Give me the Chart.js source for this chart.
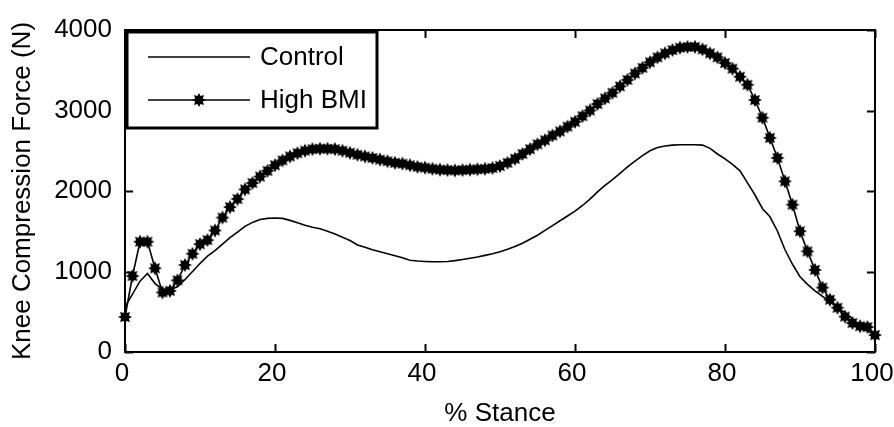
<!DOCTYPE html>
<html>
<head>
<meta charset="utf-8">
<script src="https://cdn.jsdelivr.net/npm/chart.js@4.4.1/dist/chart.umd.min.js"></script>
<style>
  html, body { margin: 0; padding: 0; background: #ffffff; }
  #wrap { width: 894px; height: 427px; position: relative; }
</style>
</head>
<body>
<div id="wrap"><canvas id="c" width="894" height="427"></canvas></div>
<script>
// ---- data ----
const stance = [0,1,2,3,4,5,6,7,8,9,10,11,12,13,14,15,16,17,18,19,20,21,22,23,24,25,26,27,28,29,30,31,32,33,34,35,36,37,38,39,40,41,42,43,44,45,46,47,48,49,50,51,52,53,54,55,56,57,58,59,60,61,62,63,64,65,66,67,68,69,70,71,72,73,74,75,76,77,78,79,80,81,82,83,84,85,86,87,88,89,90,91,92,93,94,95,96,97,98,99,100];

const controlForce = [560,720,880,975,850,780,775,810,900,1000,
  1100,1190,1260,1340,1420,1490,1560,1610,1645,1660,
  1665,1660,1635,1605,1575,1550,1530,1500,1465,1425,
  1385,1330,1300,1270,1245,1220,1195,1170,1140,1130,
  1125,1122,1122,1125,1135,1150,1165,1180,1200,1220,
  1245,1275,1310,1350,1400,1450,1510,1570,1630,1690,
  1750,1820,1900,1990,2070,2140,2220,2300,2370,2440,
  2500,2540,2560,2570,2575,2575,2575,2570,2530,2460,
  2400,2330,2250,2100,1950,1780,1680,1500,1270,1090,
  935,840,760,690,625,550,490,410,320,260,215];

const highBmiForce = [435,944,1370,1370,1040,740,760,890,1080,1220,
  1340,1390,1510,1670,1800,1900,2020,2100,2180,2250,
  2320,2380,2430,2470,2500,2520,2525,2525,2520,2500,
  2475,2450,2430,2410,2390,2370,2350,2340,2320,2300,
  2290,2275,2265,2260,2255,2260,2265,2270,2275,2285,
  2310,2350,2400,2460,2520,2580,2630,2690,2740,2800,
  2860,2930,3000,3080,3150,3220,3300,3380,3460,3530,
  3600,3660,3710,3750,3780,3790,3790,3760,3710,3660,
  3590,3520,3420,3320,3130,2910,2660,2410,2120,1830,
  1500,1250,1020,800,650,550,440,360,320,310,210];

const xTicks = [0,20,40,60,80,100];
const yTicks = [0,1000,2000,3000,4000];
const seriesNames = ['Control', 'High BMI'];
const xTitle = '% Stance';
const yTitle = 'Knee Compression Force (N)';

// ---- styling ----
const FONT = '"Liberation Sans", Arial, Helvetica, sans-serif';
const FS = 26;

function makeStar() {
  const s = 16, c = document.createElement('canvas');
  c.width = s; c.height = s;
  const g = c.getContext('2d');
  g.fillStyle = '#000';
  g.beginPath();
  const n = 8, ro = 7, ri = 4.2, cx = s/2, cy = s/2;
  for (let i = 0; i < n*2; i++) {
    const r = (i % 2 === 0) ? ro : ri;
    const a = Math.PI * i / n - Math.PI/2;
    const px = cx + r*Math.cos(a), py = cy + r*Math.sin(a);
    if (i === 0) g.moveTo(px, py); else g.lineTo(px, py);
  }
  g.closePath();
  g.fill();
  return c;
}
const starImg = makeStar();

const toPts = arr => arr.map((v, i) => ({x: stance[i], y: v}));

const boxTicksLegend = {
  id: 'boxTicksLegend',
  afterDatasetsDraw(chart) {
    const ctx = chart.ctx, a = chart.chartArea;
    const xs = chart.scales.x, ys = chart.scales.y;
    ctx.save();
    ctx.strokeStyle = '#000';
    ctx.lineWidth = 2;
    ctx.beginPath();
    xs.ticks.forEach(t => {
      const px = Math.round(xs.getPixelForValue(t.value)) + 0.5;
      ctx.moveTo(px, a.bottom); ctx.lineTo(px, a.bottom - 8);
      ctx.moveTo(px, a.top); ctx.lineTo(px, a.top + 8);
    });
    ys.ticks.forEach(t => {
      const py = Math.round(ys.getPixelForValue(t.value)) + 0.5;
      ctx.moveTo(a.left, py); ctx.lineTo(a.left + 8, py);
      ctx.moveTo(a.right, py); ctx.lineTo(a.right - 8, py);
    });
    ctx.stroke();
    ctx.lineWidth = 2;
    ctx.strokeRect(a.left, a.top, a.right - a.left, a.bottom - a.top);

    // legend
    const lx = a.left + 2, ly = a.top + 2, lw = 250, lh = 96;
    ctx.fillStyle = '#ffffff';
    ctx.fillRect(lx, ly, lw, lh);
    ctx.lineWidth = 3;
    ctx.strokeRect(lx, ly, lw, lh);
    ctx.font = FS + 'px ' + FONT;
    ctx.textBaseline = 'middle';
    ctx.textAlign = 'left';
    const rows = [ly + 25, ly + 68];
    chart.data.datasets.forEach((ds, i) => {
      const y = rows[i];
      ctx.strokeStyle = '#000';
      ctx.lineWidth = ds.borderWidth;
      ctx.beginPath();
      ctx.moveTo(lx + 21, y); ctx.lineTo(lx + 123, y);
      ctx.stroke();
      if (i === 1) {
        ctx.drawImage(starImg, lx + 72 - starImg.width/2, y - starImg.height/2);
      }
      ctx.fillStyle = '#000';
      ctx.fillText(ds.label, lx + 133, y + 1);
    });
    ctx.restore();
  }
};

new Chart(document.getElementById('c'), {
  type: 'line',
  data: {
    datasets: [
      {
        label: seriesNames[0],
        data: toPts(controlForce),
        borderColor: '#000',
        borderWidth: 1.6,
        pointRadius: 0,
        tension: 0,
        clip: false
      },
      {
        label: seriesNames[1],
        data: toPts(highBmiForce),
        borderColor: '#000',
        borderWidth: 1.6,
        pointStyle: starImg,
        pointRadius: 7,
        backgroundColor: '#000',
        tension: 0,
        clip: false
      }
    ]
  },
  options: {
    responsive: false,
    animation: false,
    devicePixelRatio: 1,
    layout: { padding: { top: 30, right: 19, left: 0, bottom: 0 } },
    plugins: {
      legend: { display: false },
      tooltip: { enabled: false }
    },
    scales: {
      x: {
        type: 'linear',
        min: 0, max: 100,
        afterBuildTicks: s => { s.ticks = xTicks.map(v => ({value: v})); },
        afterFit: s => { s.height = 75; s.paddingLeft = 0; s.paddingRight = 0; },
        grid: { display: false, drawTicks: false },
        border: { display: false },
        ticks: { color: '#000', font: { family: FONT, size: FS }, padding: 6, maxRotation: 0, labelOffset: -3, callback: v => String(v) },
        title: { display: true, text: xTitle, color: '#000', font: { family: FONT, size: FS, lineHeight: 1.0 }, padding: { top: 0, bottom: 0 } }
      },
      y: {
        type: 'linear',
        min: 0, max: 4000,
        afterBuildTicks: s => { s.ticks = yTicks.map(v => ({value: v})); },
        afterFit: s => { s.width = 125; s.paddingTop = 0; s.paddingBottom = 0; },
        grid: { display: false, drawTicks: false },
        border: { display: false },
        ticks: { color: '#000', font: { family: FONT, size: FS }, padding: 13, callback: v => String(v) },
        title: { display: true, text: yTitle, color: '#000', font: { family: FONT, size: FS, lineHeight: 1.0 }, padding: { top: 10, bottom: 0 } }
      }
    }
  },
  plugins: [boxTicksLegend]
});
</script>
</body>
</html>
